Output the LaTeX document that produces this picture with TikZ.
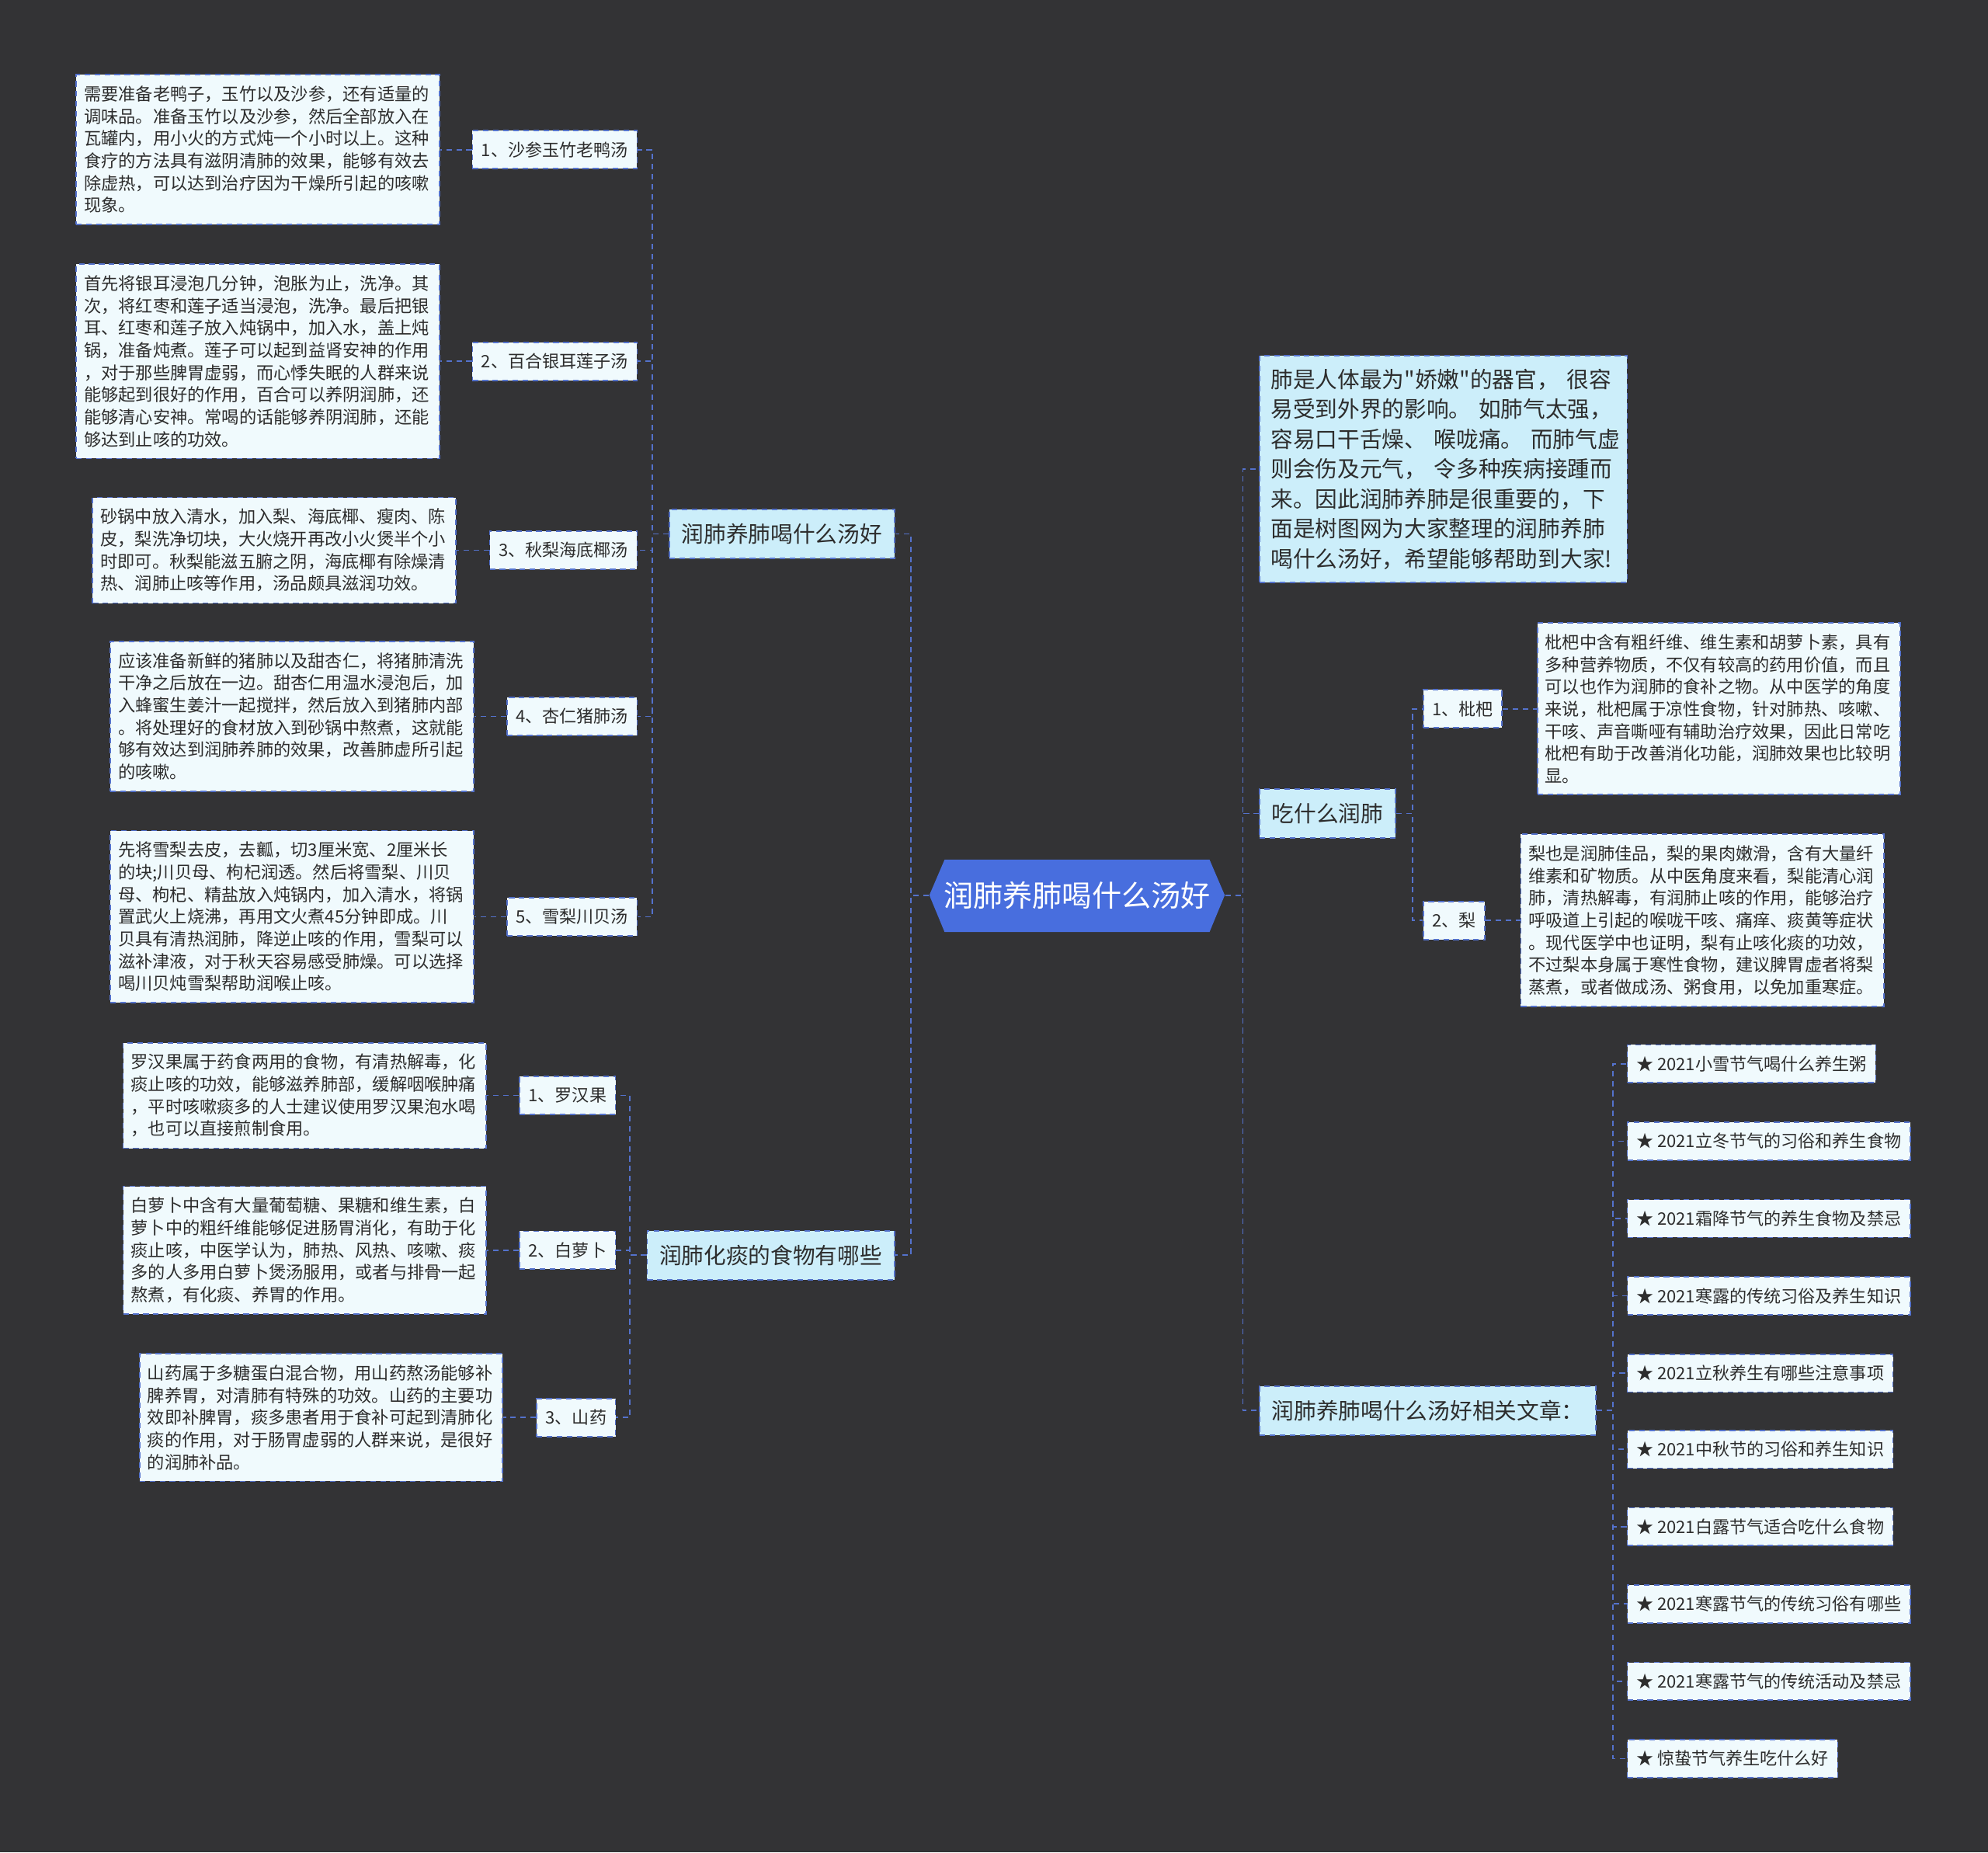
\documentclass[tikz,border=0pt]{standalone}
\usepackage{fontspec}
\setmainfont{Noto Sans CJK SC}
\font\comilla="Noto Sans CJK SC" at 10pt

\definecolor{fondo}{RGB}{51,51,53}
\definecolor{azul}{RGB}{72,110,222}
\definecolor{borde}{RGB}{84,114,204}
\definecolor{celeste}{RGB}{204,238,250}
\definecolor{claro}{RGB}{240,250,253}
\definecolor{texto}{RGB}{45,45,45}

\tikzset{
  linea/.style={draw=borde, dash pattern=on 2.5pt off 2pt, line width=0.6pt},
  rama/.style={linea, fill=celeste, text=texto, font=\fontsize{10}{13.4}\selectfont,
    minimum height=22pt, inner xsep=5.5pt},
  sub/.style={linea, fill=claro, text=texto, font=\fontsize{7.7}{10}\selectfont,
    minimum height=17pt, inner xsep=4pt},
  hoja/.style={linea, fill=claro, text=texto, font=\fontsize{7.75}{10}\selectfont,
    text width=156pt, align=left, inner xsep=3.5pt, inner ysep=5pt}
}

\begin{document}
\begin{tikzpicture}[x=0.02cm,y=-0.02cm]

% Fondo
\fill[fondo] (0,0) rectangle (1568,1461);
\useasboundingbox (0,0) rectangle (1568,1461);

% Nodo central
\fill[azul] (733,706) -- (745,678) -- (954,678) -- (966,706) -- (954,735) -- (745,735) -- cycle;
\node[font=\fontsize{13.3}{16}\selectfont, text=white, minimum width=132.6pt, inner sep=0pt] (raiz) at (849.5,706) {润肺养肺喝什么汤好};

% Ramas izquierda
\node[rama, anchor=east] (sopa) at (706,421) {润肺养肺喝什么汤好};
\node[rama, anchor=east] (tos) at (706,990) {润肺化痰的食物有哪些};

% Sopas
\node[sub, anchor=east] (s1) at (503,118) {1、沙参玉竹老鸭汤};
\node[sub, anchor=east] (s2) at (503,285) {2、百合银耳莲子汤};
\node[sub, anchor=east] (s3) at (503,434) {3、秋梨海底椰汤};
\node[sub, anchor=east] (s4) at (503,565) {4、杏仁猪肺汤};
\node[sub, anchor=east] (s5) at (503,723) {5、雪梨川贝汤};

\node[hoja, anchor=east] (h1) at (347,118) {需要准备老鸭子，玉竹以及沙参，还有适量的\\调味品。准备玉竹以及沙参，然后全部放入在\\瓦罐内，用小火的方式炖一个小时以上。这种\\食疗的方法具有滋阴清肺的效果，能够有效去\\除虚热，可以达到治疗因为干燥所引起的咳嗽\\现象。};
\node[hoja, anchor=east] (h2) at (347,285) {首先将银耳浸泡几分钟，泡胀为止，洗净。其\\次，将红枣和莲子适当浸泡，洗净。最后把银\\耳、红枣和莲子放入炖锅中，加入水，盖上炖\\锅，准备炖煮。莲子可以起到益肾安神的作用\\，对于那些脾胃虚弱，而心悸失眠的人群来说\\能够起到很好的作用，百合可以养阴润肺，还\\能够清心安神。常喝的话能够养阴润肺，还能\\够达到止咳的功效。};
\node[hoja, anchor=east] (h3) at (360,434) {砂锅中放入清水，加入梨、海底椰、瘦肉、陈\\皮，梨洗净切块，大火烧开再改小火煲半个小\\时即可。秋梨能滋五腑之阴，海底椰有除燥清\\热、润肺止咳等作用，汤品颇具滋润功效。};
\node[hoja, anchor=east] (h4) at (374,565) {应该准备新鲜的猪肺以及甜杏仁，将猪肺清洗\\干净之后放在一边。甜杏仁用温水浸泡后，加\\入蜂蜜生姜汁一起搅拌，然后放入到猪肺内部\\。将处理好的食材放入到砂锅中熬煮，这就能\\够有效达到润肺养肺的效果，改善肺虚所引起\\的咳嗽。};
\node[hoja, anchor=east] (h5) at (374,723) {先将雪梨去皮，去瓤，切3厘米宽、2厘米长\\的块;川贝母、枸杞润透。然后将雪梨、川贝\\母、枸杞、精盐放入炖锅内，加入清水，将锅\\置武火上烧沸，再用文火煮45分钟即成。川\\贝具有清热润肺，降逆止咳的作用，雪梨可以\\滋补津液，对于秋天容易感受肺燥。可以选择\\喝川贝炖雪梨帮助润喉止咳。};

% Alimentos
\node[sub, anchor=east] (t1) at (486,864) {1、罗汉果};
\node[sub, anchor=east] (t2) at (486,986) {2、白萝卜};
\node[sub, anchor=east] (t3) at (486,1118) {3、山药};

\node[hoja, anchor=east] (g1) at (384,864) {罗汉果属于药食两用的食物，有清热解毒，化\\痰止咳的功效，能够滋养肺部，缓解咽喉肿痛\\，平时咳嗽痰多的人士建议使用罗汉果泡水喝\\，也可以直接煎制食用。};
\node[hoja, anchor=east] (g2) at (384,986) {白萝卜中含有大量葡萄糖、果糖和维生素，白\\萝卜中的粗纤维能够促进肠胃消化，有助于化\\痰止咳，中医学认为，肺热、风热、咳嗽、痰\\多的人多用白萝卜煲汤服用，或者与排骨一起\\熬煮，有化痰、养胃的作用。};
\node[hoja, anchor=east] (g3) at (397,1118) {山药属于多糖蛋白混合物，用山药熬汤能够补\\脾养胃，对清肺有特殊的功效。山药的主要功\\效即补脾胃，痰多患者用于食补可起到清肺化\\痰的作用，对于肠胃虚弱的人群来说，是很好\\的润肺补品。};

% Ramas derecha
\node[rama, anchor=west, text width=155pt, align=left, inner xsep=5pt, inner ysep=6pt] (intro) at (993,370) {肺是人体最为{\comilla"}娇嫩{\comilla"}的器官，~很容\\易受到外界的影响。~如肺气太强，\\容易口干舌燥、~喉咙痛。~而肺气虚\\则会伤及元气，~令多种疾病接踵而\\来。因此润肺养肺是很重要的，下\\面是树图网为大家整理的润肺养肺\\喝什么汤好，希望能够帮助到大家!};
\node[rama, anchor=west] (comer) at (993,641.5) {吃什么润肺};
\node[rama, anchor=west] (art) at (993,1112.5) {润肺养肺喝什么汤好相关文章：};

% Frutas
\node[sub, anchor=west] (f1) at (1122,559) {1、枇杷};
\node[sub, anchor=west] (f2) at (1122,726) {2、梨};

\node[hoja, anchor=west] (p1) at (1212,559) {枇杷中含有粗纤维、维生素和胡萝卜素，具有\\多种营养物质，不仅有较高的药用价值，而且\\可以也作为润肺的食补之物。从中医学的角度\\来说，枇杷属于凉性食物，针对肺热、咳嗽、\\干咳、声音嘶哑有辅助治疗效果，因此日常吃\\枇杷有助于改善消化功能，润肺效果也比较明\\显。};
\node[hoja, anchor=west] (p2) at (1199,726) {梨也是润肺佳品，梨的果肉嫩滑，含有大量纤\\维素和矿物质。从中医角度来看，梨能清心润\\肺，清热解毒，有润肺止咳的作用，能够治疗\\呼吸道上引起的喉咙干咳、痛痒、痰黄等症状\\。现代医学中也证明，梨有止咳化痰的功效，\\不过梨本身属于寒性食物，建议脾胃虚者将梨\\蒸煮，或者做成汤、粥食用，以免加重寒症。};

% Articulos
\node[sub, anchor=west] (a1) at (1283,839) {★ 2021小雪节气喝什么养生粥};
\node[sub, anchor=west] (a2) at (1283,900) {★ 2021立冬节气的习俗和养生食物};
\node[sub, anchor=west] (a3) at (1283,961) {★ 2021霜降节气的养生食物及禁忌};
\node[sub, anchor=west] (a4) at (1283,1022) {★ 2021寒露的传统习俗及养生知识};
\node[sub, anchor=west] (a5) at (1283,1083) {★ 2021立秋养生有哪些注意事项};
\node[sub, anchor=west] (a6) at (1283,1143) {★ 2021中秋节的习俗和养生知识};
\node[sub, anchor=west] (a7) at (1283,1204) {★ 2021白露节气适合吃什么食物};
\node[sub, anchor=west] (a8) at (1283,1265) {★ 2021寒露节气的传统习俗有哪些};
\node[sub, anchor=west] (a9) at (1283,1326) {★ 2021寒露节气的传统活动及禁忌};
\node[sub, anchor=west] (a10) at (1283,1387) {★ 惊蛰节气养生吃什么好};

% Conexiones
\draw[linea] (raiz.west) -- ++(-14,0) |- (sopa.east);
\draw[linea] (raiz.west) -- ++(-14,0) |- (tos.east);
\draw[linea] (raiz.east) -- ++(14,0) |- (intro.west);
\draw[linea] (raiz.east) -- ++(14,0) |- (comer.west);
\draw[linea] (raiz.east) -- ++(14,0) |- (art.west);

\draw[linea] (sopa.west) -- ++(-13,0) |- (s1.east);
\draw[linea] (sopa.west) -- ++(-13,0) |- (s2.east);
\draw[linea] (sopa.west) -- ++(-13,0) |- (s3.east);
\draw[linea] (sopa.west) -- ++(-13,0) |- (s4.east);
\draw[linea] (sopa.west) -- ++(-13,0) |- (s5.east);
\draw[linea] (s1.west) -- (h1.east);
\draw[linea] (s2.west) -- (h2.east);
\draw[linea] (s3.west) -- (h3.east);
\draw[linea] (s4.west) -- (h4.east);
\draw[linea] (s5.west) -- (h5.east);

\draw[linea] (tos.west) -- ++(-13,0) |- (t1.east);
\draw[linea] (tos.west) -- ++(-13,0) |- (t2.east);
\draw[linea] (tos.west) -- ++(-13,0) |- (t3.east);
\draw[linea] (t1.west) -- (g1.east);
\draw[linea] (t2.west) -- (g2.east);
\draw[linea] (t3.west) -- (g3.east);

\draw[linea] (comer.east) -- ++(13,0) |- (f1.west);
\draw[linea] (comer.east) -- ++(13,0) |- (f2.west);
\draw[linea] (f1.east) -- (p1.west);
\draw[linea] (f2.east) -- (p2.west);

\draw[linea] (art.east) -- ++(13,0) |- (a1.west);
\draw[linea] (art.east) -- ++(13,0) |- (a2.west);
\draw[linea] (art.east) -- ++(13,0) |- (a3.west);
\draw[linea] (art.east) -- ++(13,0) |- (a4.west);
\draw[linea] (art.east) -- ++(13,0) |- (a5.west);
\draw[linea] (art.east) -- ++(13,0) |- (a6.west);
\draw[linea] (art.east) -- ++(13,0) |- (a7.west);
\draw[linea] (art.east) -- ++(13,0) |- (a8.west);
\draw[linea] (art.east) -- ++(13,0) |- (a9.west);
\draw[linea] (art.east) -- ++(13,0) |- (a10.west);

\end{tikzpicture}
\end{document}
